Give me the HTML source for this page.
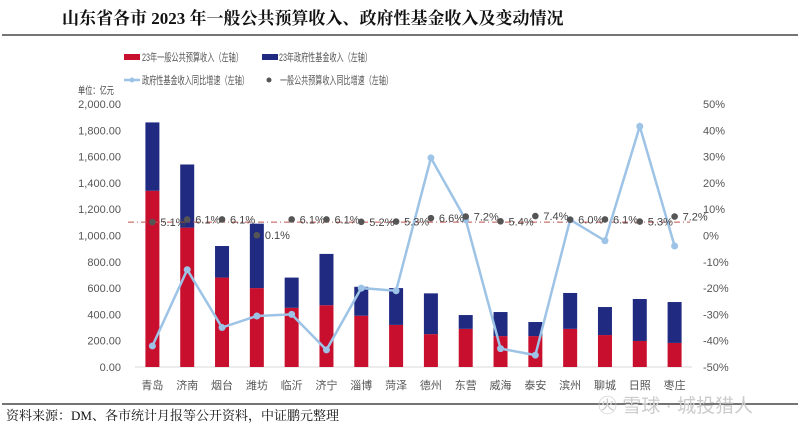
<!DOCTYPE html>
<html><head><meta charset="utf-8"><style>
body{margin:0;width:800px;height:433px;background:#fff;overflow:hidden;font-family:"Liberation Sans","Noto Sans CJK SC",sans-serif}
</style></head><body>
<svg id="c" width="800" height="433" xmlns="http://www.w3.org/2000/svg">
<text x="62" y="24" font-size="17" font-weight="bold" font-family="'Liberation Serif','Noto Serif CJK SC',serif" fill="#111">山东省各市 2023 年一般公共预算收入、政府性基金收入及变动情况</text>
<line x1="2" y1="35" x2="798" y2="35" stroke="#222" stroke-width="1.2"/>
<g font-size="11" fill="#555">
<g><rect x="124" y="54" width="16" height="6" fill="#c8102e"/><text x="142" y="61" textLength="101" lengthAdjust="spacingAndGlyphs">23年一般公共预算收入（左轴）</text></g>
<g><rect x="262" y="54" width="16" height="6" fill="#1f2a80"/><text x="279" y="61" textLength="93" lengthAdjust="spacingAndGlyphs">23年政府性基金收入（左轴）</text></g>
<g><line x1="124" y1="80" x2="140" y2="80" stroke="#9dc3e6" stroke-width="2.5"/><circle cx="132" cy="80" r="2.5" fill="#9dc3e6"/><text x="142" y="84" textLength="107" lengthAdjust="spacingAndGlyphs">政府性基金收入同比增速（左轴）</text></g>
<g><circle cx="269" cy="80" r="2.5" fill="#555"/><text x="280" y="84" textLength="113" lengthAdjust="spacingAndGlyphs">一般公共预算收入同比增速（左轴）</text></g>
</g>
<text x="78" y="94" font-size="10" fill="#444" textLength="36" lengthAdjust="spacingAndGlyphs">单位：亿元</text>
<g id="plot"></g>
<line x1="2" y1="404" x2="798" y2="404" stroke="#222" stroke-width="1.2"/>
<text x="6" y="420" font-size="13" fill="#111" font-family="'Liberation Serif','Noto Serif CJK SC',serif">资料来源：DM、各市统计月报等公开资料，中证鹏元整理</text>
<text x="598" y="412" font-size="19" fill="#ccc">㊋ 雪球 · 城投猎人</text>
</svg>
<script>
const categories=["青岛","济南","烟台","潍坊","临沂","济宁","淄博","菏泽","德州","东营","威海","泰安","滨州","聊城","日照","枣庄"];
const budgetRevenue=[1340,1060,680,600,450,470,390,320,250,290,235,235,290,243,198,183];
const fundRevenue=[520,480,240,490,230,390,220,280,310,105,183,107,273,213,319,311];
const fundGrowth=[-42,-13,-35,-30.6,-30,-43.5,-20,-21,29.5,6,-43,-45.5,6,-2,41.5,-4];
const budgetGrowth=[5.1,6.1,6.1,0.1,6.1,6.1,5.2,5.3,6.6,7.2,5.4,7.4,6.0,6.1,5.3,7.2];
const leftTicks=["0.00","200.00","400.00","600.00","800.00","1,000.00","1,200.00","1,400.00","1,600.00","1,800.00","2,000.00"];
const rightTicks=["-50%","-40%","-30%","-20%","-10%","0%","10%","20%","30%","40%","50%"];
const avgGrowth=5.1;
const NS="http://www.w3.org/2000/svg",g=document.getElementById('plot');
const x0=135,x1=692,yb=367,yt=104;
const yL=v=>yb-(v/2000)*(yb-yt);
const yR=v=>yb-((v+50)/100)*(yb-yt);
const bw=(x1-x0)/categories.length;
const xc=i=>x0+bw*(i+0.5);
function mk(t,a,p){const e=document.createElementNS(NS,t);for(const k in a)e.setAttribute(k,a[k]);(p||g).appendChild(e);return e;}
leftTicks.forEach((t,i)=>{const e=mk('text',{x:121,y:yL(i*200)+4,'font-size':11,fill:'#555','text-anchor':'end'});e.textContent=t;

});
rightTicks.forEach((t,i)=>{const e=mk('text',{x:703,y:yR(i*10-50)+4,'font-size':11,fill:'#555'});e.textContent=t;

});
const ax=mk('line',{x1:x0,y1:yb,x2:x1,y2:yb,stroke:'#d9d9d9','stroke-width':1});


categories.forEach((c,i)=>{
 const r=mk('rect',{x:xc(i)-7,y:yL(budgetRevenue[i]),width:14,height:yb-yL(budgetRevenue[i]),fill:'#c8102e'});
 
 
 const tot=budgetRevenue[i]+fundRevenue[i];
 const b=mk('rect',{x:xc(i)-7,y:yL(tot),width:14,height:yL(budgetRevenue[i])-yL(tot),fill:'#1f2a80'});
 
 
 const t=mk('text',{x:xc(i),y:389,'font-size':11,fill:'#555','text-anchor':'middle'});t.textContent=c;
 
 
});
const avg=mk('line',{x1:128,y1:yR(avgGrowth),x2:690,y2:yR(avgGrowth),stroke:'#c0504d','stroke-width':1,'stroke-dasharray':'6,3,1,3'});


const pl=mk('polyline',{points:fundGrowth.map((v,i)=>xc(i)+','+yR(v)).join(' '),fill:'none',stroke:'#9dc3e6','stroke-width':2.5});


fundGrowth.forEach((v,i)=>{const c=mk('circle',{cx:xc(i),cy:yR(v),r:3.5,fill:'#9dc3e6'});

});
budgetGrowth.forEach((v,i)=>{const c=mk('circle',{cx:xc(i),cy:yR(v),r:3.3,fill:'#555'});


const t=mk('text',{x:xc(i)+8,y:yR(v)+4,'font-size':11,fill:'#444'});t.textContent=v.toFixed(1)+'%';

});
</script>
</body></html>
